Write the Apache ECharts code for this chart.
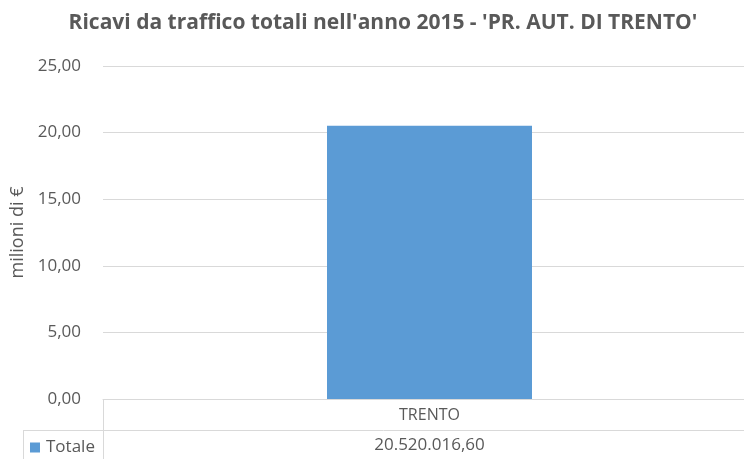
<!DOCTYPE html>
<html>
<head>
<meta charset="utf-8">
<script src="https://cdn.jsdelivr.net/npm/echarts@6/dist/echarts.min.js"></script>
<style>
  html, body { margin: 0; padding: 0; background: #fff; }
  #main { width: 744px; height: 459px; }
</style>
</head>
<body>
<div id="main"></div>
<script>
// dati
var categories = ["TRENTO"];
var seriesName = "Totale";
var totaleEuro = [20520016.60];
var yTicks = [0, 5, 10, 15, 20, 25];

var FONT = "'Open Sans', sans-serif";
var GREY = "#595959";
var LINE = "#d9d9d9";

// 20520016.6 -> "20.520.016,60"
function fmtEuro(v) {
  var parts = v.toFixed(2).split(".");
  return parts[0].replace(/\B(?=(\d{3})+(?!\d))/g, ".") + "," + parts[1];
}

var myChart = echarts.init(document.getElementById("main"));
var option = {
  animation: false,
  title: {
    text: "Ricavi da traffico totali nell'anno 2015 - 'PR. AUT. DI TRENTO'",
    left: 378,
    textAlign: "center",
    top: 8,
    textStyle: { fontFamily: FONT, fontSize: 21, fontWeight: "bold", color: GREY }
  },
  legend: {
    data: [seriesName],
    left: 25,
    top: 434,
    icon: "rect",
    itemWidth: 10,
    itemHeight: 10,
    itemGap: 4,
    textStyle: { fontFamily: FONT, fontSize: 17, color: GREY, padding: [0, 0, 0, 1] }
  },
  grid: { left: 103, right: -12, top: 66, bottom: 60, outerBoundsMode: "none", containLabel: false },
  xAxis: [
    {
      type: "category",
      data: categories,
      axisLine: { show: true, lineStyle: { color: LINE } },
      axisTick: { show: false },
      axisLabel: { color: GREY, fontFamily: FONT, fontSize: 16, margin: 8 }
    },
    {
      type: "category",
      position: "bottom",
      offset: 31,
      data: totaleEuro.map(fmtEuro),
      axisLine: { show: false },
      axisTick: { show: false },
      axisLabel: { color: GREY, fontFamily: FONT, fontSize: 17, margin: 7 }
    }
  ],
  yAxis: {
    type: "value",
    min: yTicks[0],
    max: yTicks[yTicks.length - 1],
    interval: 5,
    name: "milioni di €",
    nameLocation: "middle",
    nameGap: 75,
    nameTextStyle: { fontFamily: FONT, fontSize: 18, color: GREY },
    axisLine: { show: false },
    axisTick: { show: false },
    splitLine: { lineStyle: { color: LINE } },
    axisLabel: {
      color: GREY,
      fontFamily: FONT,
      fontSize: 17,
      margin: 22,
      formatter: function (v) { return v.toFixed(2).replace(".", ","); }
    }
  },
  graphic: [
    { type: "line", shape: { x1: 23, y1: 430.5, x2: 744, y2: 430.5 }, style: { stroke: LINE, lineWidth: 1 } },
    { type: "line", shape: { x1: 23.5, y1: 430, x2: 23.5, y2: 459 }, style: { stroke: LINE, lineWidth: 1 } },
    { type: "line", shape: { x1: 103.5, y1: 399, x2: 103.5, y2: 459 }, style: { stroke: LINE, lineWidth: 1 } }
  ],
  series: [
    {
      name: seriesName,
      type: "bar",
      xAxisIndex: 0,
      barWidth: 205,
      itemStyle: { color: "#5B9BD5" },
      data: totaleEuro.map(function (v) { return v / 1e6; })
    }
  ]
};
myChart.setOption(option);
</script>
</body>
</html>
